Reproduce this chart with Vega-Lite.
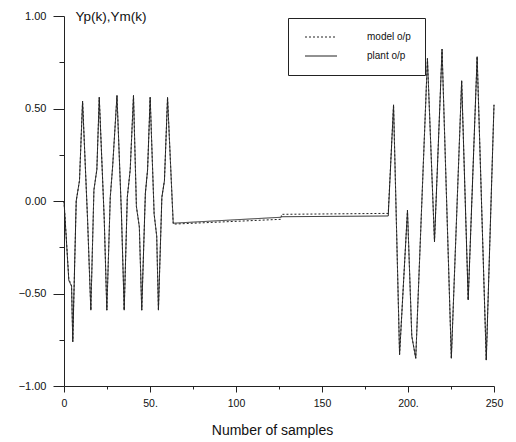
{
  "$schema": "https://vega.github.io/schema/vega-lite/v6.json",
  "width": 430,
  "height": 370,
  "autosize": "none",
  "padding": {"left": 64, "top": 16, "right": 22, "bottom": 56},
  "background": "white",
  "config": {
    "view": {"stroke": null},
    "font": "Liberation Sans",
    "axis": {"grid": false, "domainColor": "#222", "tickColor": "#222", "labelColor": "#111", "titleColor": "#111", "labelFont": "Liberation Sans", "titleFont": "Liberation Sans", "titleFontWeight": "normal"}
  },
  "data": {
    "values": [
      {"s": "plant o/p", "x": 0, "y": 0},
      {"s": "plant o/p", "x": 2.8, "y": -0.43},
      {"s": "plant o/p", "x": 4.4, "y": -0.46},
      {"s": "plant o/p", "x": 5.1, "y": -0.76},
      {"s": "plant o/p", "x": 7.1, "y": 0.0},
      {"s": "plant o/p", "x": 9.0, "y": 0.11},
      {"s": "plant o/p", "x": 10.8, "y": 0.54},
      {"s": "plant o/p", "x": 13.7, "y": -0.10},
      {"s": "plant o/p", "x": 15.6, "y": -0.59},
      {"s": "plant o/p", "x": 17.4, "y": 0.06},
      {"s": "plant o/p", "x": 19.1, "y": 0.17},
      {"s": "plant o/p", "x": 20.5, "y": 0.56},
      {"s": "plant o/p", "x": 23.4, "y": -0.10},
      {"s": "plant o/p", "x": 24.9, "y": -0.59},
      {"s": "plant o/p", "x": 26.9, "y": 0.02},
      {"s": "plant o/p", "x": 28.3, "y": 0.19},
      {"s": "plant o/p", "x": 30.8, "y": 0.57},
      {"s": "plant o/p", "x": 33.4, "y": -0.07},
      {"s": "plant o/p", "x": 35.0, "y": -0.59},
      {"s": "plant o/p", "x": 36.8, "y": 0.02},
      {"s": "plant o/p", "x": 38.5, "y": 0.17},
      {"s": "plant o/p", "x": 40.4, "y": 0.57},
      {"s": "plant o/p", "x": 42.1, "y": -0.03},
      {"s": "plant o/p", "x": 43.8, "y": -0.14},
      {"s": "plant o/p", "x": 45.2, "y": -0.59},
      {"s": "plant o/p", "x": 47.3, "y": 0.04},
      {"s": "plant o/p", "x": 48.6, "y": 0.17},
      {"s": "plant o/p", "x": 50.1, "y": 0.56},
      {"s": "plant o/p", "x": 52.4, "y": -0.07},
      {"s": "plant o/p", "x": 53.9, "y": -0.19},
      {"s": "plant o/p", "x": 54.9, "y": -0.59},
      {"s": "plant o/p", "x": 56.9, "y": 0.02},
      {"s": "plant o/p", "x": 58.4, "y": 0.11},
      {"s": "plant o/p", "x": 60.2, "y": 0.56},
      {"s": "plant o/p", "x": 63.5, "y": -0.12},
      {"s": "plant o/p", "x": 126, "y": -0.088},
      {"s": "plant o/p", "x": 126.5, "y": -0.085},
      {"s": "plant o/p", "x": 188.5, "y": -0.081},
      {"s": "plant o/p", "x": 191.6, "y": 0.52},
      {"s": "plant o/p", "x": 195.1, "y": -0.83},
      {"s": "plant o/p", "x": 199.7, "y": -0.05},
      {"s": "plant o/p", "x": 202.2, "y": -0.73},
      {"s": "plant o/p", "x": 204.5, "y": -0.85},
      {"s": "plant o/p", "x": 211.3, "y": 0.77},
      {"s": "plant o/p", "x": 215.4, "y": -0.22},
      {"s": "plant o/p", "x": 219.8, "y": 0.82},
      {"s": "plant o/p", "x": 225.2, "y": -0.85},
      {"s": "plant o/p", "x": 231.2, "y": 0.65},
      {"s": "plant o/p", "x": 235.0, "y": -0.535},
      {"s": "plant o/p", "x": 240.2, "y": 0.78},
      {"s": "plant o/p", "x": 245.5, "y": -0.86},
      {"s": "plant o/p", "x": 250, "y": 0.52},
      {"s": "model o/p", "x": 0, "y": 0},
      {"s": "model o/p", "x": 2.8, "y": -0.42},
      {"s": "model o/p", "x": 4.4, "y": -0.46},
      {"s": "model o/p", "x": 5.1, "y": -0.76},
      {"s": "model o/p", "x": 7.1, "y": 0.0},
      {"s": "model o/p", "x": 9.0, "y": 0.11},
      {"s": "model o/p", "x": 10.8, "y": 0.54},
      {"s": "model o/p", "x": 13.7, "y": -0.10},
      {"s": "model o/p", "x": 15.6, "y": -0.59},
      {"s": "model o/p", "x": 17.4, "y": 0.06},
      {"s": "model o/p", "x": 19.1, "y": 0.17},
      {"s": "model o/p", "x": 20.5, "y": 0.56},
      {"s": "model o/p", "x": 23.4, "y": -0.10},
      {"s": "model o/p", "x": 24.9, "y": -0.59},
      {"s": "model o/p", "x": 26.9, "y": 0.02},
      {"s": "model o/p", "x": 28.3, "y": 0.19},
      {"s": "model o/p", "x": 30.8, "y": 0.57},
      {"s": "model o/p", "x": 33.4, "y": -0.07},
      {"s": "model o/p", "x": 35.0, "y": -0.59},
      {"s": "model o/p", "x": 36.8, "y": 0.02},
      {"s": "model o/p", "x": 38.5, "y": 0.17},
      {"s": "model o/p", "x": 40.4, "y": 0.57},
      {"s": "model o/p", "x": 42.1, "y": -0.03},
      {"s": "model o/p", "x": 43.8, "y": -0.14},
      {"s": "model o/p", "x": 45.2, "y": -0.59},
      {"s": "model o/p", "x": 47.3, "y": 0.04},
      {"s": "model o/p", "x": 48.6, "y": 0.17},
      {"s": "model o/p", "x": 50.1, "y": 0.56},
      {"s": "model o/p", "x": 52.4, "y": -0.07},
      {"s": "model o/p", "x": 53.9, "y": -0.19},
      {"s": "model o/p", "x": 54.9, "y": -0.59},
      {"s": "model o/p", "x": 56.9, "y": 0.02},
      {"s": "model o/p", "x": 58.4, "y": 0.11},
      {"s": "model o/p", "x": 60.2, "y": 0.56},
      {"s": "model o/p", "x": 63.5, "y": -0.125},
      {"s": "model o/p", "x": 126, "y": -0.099},
      {"s": "model o/p", "x": 126.5, "y": -0.072},
      {"s": "model o/p", "x": 188.5, "y": -0.067},
      {"s": "model o/p", "x": 191.6, "y": 0.52},
      {"s": "model o/p", "x": 195.1, "y": -0.83},
      {"s": "model o/p", "x": 199.7, "y": -0.05},
      {"s": "model o/p", "x": 202.2, "y": -0.73},
      {"s": "model o/p", "x": 204.5, "y": -0.85},
      {"s": "model o/p", "x": 211.3, "y": 0.77},
      {"s": "model o/p", "x": 215.4, "y": -0.22},
      {"s": "model o/p", "x": 219.8, "y": 0.82},
      {"s": "model o/p", "x": 225.2, "y": -0.85},
      {"s": "model o/p", "x": 231.2, "y": 0.65},
      {"s": "model o/p", "x": 235.0, "y": -0.535},
      {"s": "model o/p", "x": 240.2, "y": 0.78},
      {"s": "model o/p", "x": 245.5, "y": -0.86},
      {"s": "model o/p", "x": 250, "y": 0.52}
    ]
  },
  "mark": {"type": "line", "color": "#222", "strokeWidth": 1},
  "encoding": {
    "x": {
      "field": "x", "type": "quantitative",
      "scale": {"domain": [0, 250], "nice": false, "zero": false},
      "axis": {
        "values": [0, 25, 50, 75, 100, 125, 150, 175, 200, 225, 250],
        "labelExpr": "datum.value == 50 ? '50.' : datum.value == 200 ? '200.' : (datum.value % 50 == 0 ? datum.label : '')",
        "tickSize": {"condition": {"test": "datum.value % 50 == 0", "value": 6}, "value": 3},
        "labelFontSize": 10.5,
        "labelPadding": 6,
        "labelFlush": false,
        "title": "Number of samples",
        "titleFontSize": 14,
        "titleX": 208,
        "titleY": 48,
        "titleBaseline": "alphabetic",
        "titleAnchor": "middle"
      }
    },
    "y": {
      "field": "y", "type": "quantitative",
      "scale": {"domain": [-1, 1], "nice": false, "zero": false},
      "axis": {
        "values": [-1, -0.75, -0.5, -0.25, 0, 0.25, 0.5, 0.75, 1],
        "labelExpr": "abs(datum.value * 4) % 2 == 0 ? format(datum.value, '.2f') : ''",
        "tickSize": {"condition": {"test": "abs(datum.value * 4) % 2 == 0", "value": 11}, "value": 5},
        "labelFontSize": 11,
        "labelPadding": 7,
        "labelFlush": false,
        "title": "Yp(k),Ym(k)",
        "titleAngle": 0,
        "titleAlign": "left",
        "titleBaseline": "middle",
        "titleX": 11,
        "titleY": 0,
        "titleFontSize": 13.5
      }
    },
    "strokeDash": {
      "field": "s", "type": "nominal",
      "scale": {"domain": ["model o/p", "plant o/p"], "range": [[2, 2], [1, 0]]},
      "legend": {
        "title": null,
        "orient": "none",
        "legendX": 224,
        "legendY": 2,
        "strokeColor": "#222",
        "padding": 14,
        "symbolType": "M-4,0H4",
        "symbolSize": 64,
        "symbolOffset": 14,
        "symbolStrokeColor": "#222",
        "symbolStrokeWidth": 1,
        "labelFontSize": 10,
        "labelOffset": 41,
        "rowPadding": 9,
        "labelColor": "#111"
      }
    }
  }
}
